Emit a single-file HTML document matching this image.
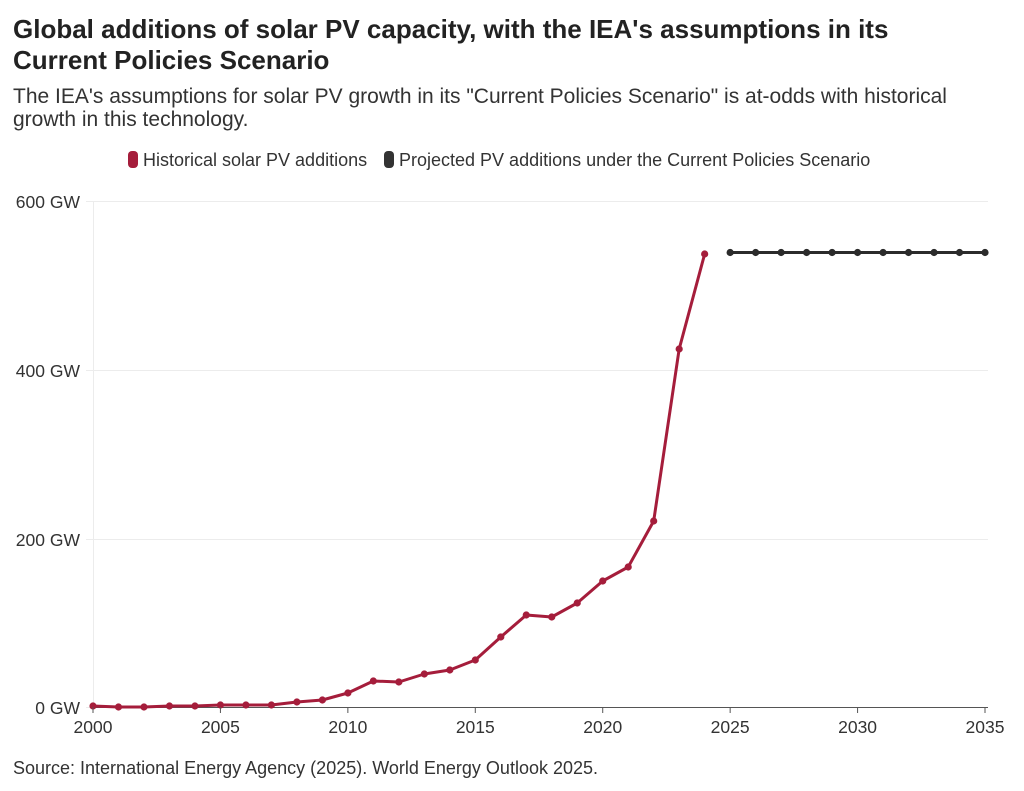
<!DOCTYPE html>
<html><head><meta charset="utf-8"><style>
body{margin:0;width:1024px;height:791px;background:#fff;font-family:"Liberation Sans",sans-serif;color:#222;overflow:hidden}
h1{position:absolute;left:13px;top:14px;margin:0;font-size:26px;line-height:31px;font-weight:bold;color:#222;width:915px}
.sub{position:absolute;left:13px;top:85px;font-size:21px;line-height:23px;color:#333;width:960px}
.src{position:absolute;left:13px;top:758px;font-size:18px;color:#333}
svg{position:absolute;left:0;top:0}
</style></head><body>
<h1>Global additions of solar PV capacity, with the IEA's assumptions in its Current Policies Scenario</h1>
<div class="sub">The IEA's assumptions for solar PV growth in its "Current Policies Scenario" is at-odds with historical growth in this technology.</div>
<div class="src">Source: International Energy Agency (2025). World Energy Outlook 2025.</div>
<svg width="1024" height="791" id="s" font-family="Liberation Sans, sans-serif">
<rect x="128" y="151" width="10" height="17" rx="4" fill="#a51d3b"/>
<text x="143" y="166" font-size="18" fill="#333">Historical solar PV additions</text>
<rect x="384" y="151" width="10" height="17" rx="4" fill="#333"/>
<text x="399" y="166" font-size="18" fill="#333">Projected PV additions under the Current Policies Scenario</text>
<g stroke="#ececec" stroke-width="1">
<line x1="93" y1="201.5" x2="988" y2="201.5"/><line x1="93" y1="370.5" x2="988" y2="370.5"/><line x1="93" y1="539.5" x2="988" y2="539.5"/>
<line x1="93.5" y1="201" x2="93.5" y2="707"/>
<line x1="86" y1="201.5" x2="93" y2="201.5"/><line x1="86" y1="370.5" x2="93" y2="370.5"/><line x1="86" y1="539.5" x2="93" y2="539.5"/><line x1="86" y1="707.5" x2="93" y2="707.5"/>
</g>
<line x1="93" y1="707.5" x2="988" y2="707.5" stroke="#555" stroke-width="1"/>
<g font-size="17.5" fill="#333" text-anchor="end">
<text x="80" y="208">600 GW</text><text x="80" y="377">400 GW</text><text x="80" y="546">200 GW</text><text x="80" y="714">0 GW</text>
</g>
</svg>
<script>
var s=document.getElementById('s'),ns='http://www.w3.org/2000/svg';
function X(y){return 93+(y-2000)*25.486}
var h=[706,707,707,706,706,705,705,705,702,700,693,681,682,674,670,660,637,615,617,603,581,567,521,349,254];
function el(t,a){var e=document.createElementNS(ns,t);for(var k in a)e.setAttribute(k,a[k]);s.appendChild(e);return e}
var p=h.map(function(v,i){return X(2000+i)+','+v}).join(' ');
el('polyline',{points:p,fill:'none',stroke:'#a51d3b','stroke-width':3,'stroke-linejoin':'round'});
h.forEach(function(v,i){el('circle',{cx:X(2000+i),cy:v,r:3.6,fill:'#a51d3b'})});
el('line',{x1:X(2025),y1:252.5,x2:X(2035),y2:252.5,stroke:'#2b2b2b','stroke-width':3});
for(var y=2025;y<=2035;y++)el('circle',{cx:X(y),cy:252.5,r:3.6,fill:'#2b2b2b'});
for(var y=2000;y<=2035;y+=5){var t=el('text',{x:X(y),y:733,'font-size':17.5,fill:'#333','text-anchor':'middle'});t.textContent=y;
el('line',{x1:X(y),y1:707,x2:X(y),y2:713,stroke:'#555'});}
</script>
</body></html>
